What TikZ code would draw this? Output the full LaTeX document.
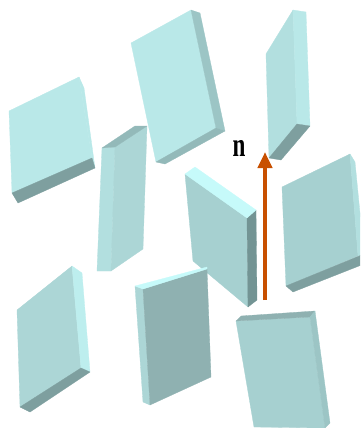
\documentclass[tikz,border=0pt]{standalone}
\usepackage{fontspec}
\setmainfont{Liberation Serif}
\usetikzlibrary{arrows.meta}
\definecolor{arrowc}{HTML}{C85000}
\definecolor{fa}{HTML}{B9E8E8}
\definecolor{fb}{HTML}{B2DFDF}
\definecolor{fc}{HTML}{ACD6D6}
\definecolor{fd}{HTML}{A6D0D0}
\definecolor{fe}{HTML}{8FB1B1}
\definecolor{ff}{HTML}{7E9F9F}
\definecolor{fg}{HTML}{739494}
\definecolor{fh}{HTML}{C6FAFA}
\definecolor{fi}{HTML}{9CC5C5}
\definecolor{fj}{HTML}{93B9B9}
\definecolor{fk}{HTML}{BDEEEE}
\begin{document}
\begin{tikzpicture}[x=1pt,y=-1pt,
  facet/.style={line width=0.3pt,line join=round,draw=#1,fill=#1}]
\useasboundingbox (0,0) rectangle (360,428);
\clip (0,0) rectangle (360,428);
% upper left plate
\path[facet=fa] (9,111) -- (79,77) -- (92,158) -- (12,193) -- cycle;
\path[facet=fa] (79,77) -- (84,88) -- (95,168) -- (92,158) -- cycle;
\path[facet=ff] (12,193) -- (92,158) -- (95,168) -- (18,203) -- cycle;
% upper middle plate
\path[facet=fa] (131,43) -- (191,10) -- (216,128) -- (156,162) -- cycle;
\path[facet=fi] (191,10) -- (200,13) -- (225,131) -- (216,128) -- cycle;
\path[facet=fj] (156,162) -- (216,128) -- (225,131) -- (165,164) -- cycle;
% narrow plate
\path[facet=fb] (102,148) -- (115,147) -- (111,271) -- (97,271) -- cycle;
\path[facet=fc] (115,147) -- (147,126) -- (143,249) -- (111,271) -- cycle;
\path[facet=fj] (102,148) -- (135,126) -- (147,126) -- (115,147) -- cycle;
% upper right plate
\path[facet=fb] (266,54) -- (293,10) -- (297,124) -- (269,158) -- cycle;
\path[facet=fa] (293,10) -- (306,12) -- (310,126) -- (297,124) -- cycle;
\path[facet=ff] (269,158) -- (297,124) -- (310,126) -- (281,160) -- cycle;
% central plate
\path[facet=fd] (185,174) -- (247,218) -- (248,307) -- (193,261) -- cycle;
\path[facet=fg] (247,218) -- (256,210) -- (257,300) -- (248,307) -- cycle;
\path[facet=fh] (185,174) -- (195,167) -- (256,210) -- (247,218) -- cycle;
% right plate
\path[facet=fd] (282,187) -- (350,154) -- (358,256) -- (286,286) -- cycle;
\path[facet=fb] (350,154) -- (355,162) -- (364,254) -- (358,256) -- cycle;
\path[facet=ff] (286,286) -- (364,254) -- (364,264) -- (293,292) -- cycle;
% lower left plate
\path[facet=fc] (17,310) -- (72,266) -- (81,368) -- (20,407) -- cycle;
\path[facet=fk] (72,266) -- (82,273) -- (90,372) -- (81,368) -- cycle;
\path[facet=ff] (20,407) -- (81,368) -- (90,372) -- (30,412) -- cycle;
% lower middle plate
\path[facet=fc] (135,286) -- (143,289) -- (150,405) -- (143,402) -- cycle;
\path[facet=fe] (143,289) -- (207,269) -- (211,377) -- (150,405) -- cycle;
\path[facet=fh] (135,286) -- (207,267) -- (207,269) -- (143,289) -- cycle;
% lower right plate
\path[facet=fd] (236,321) -- (310,317) -- (325,428) -- (254,427) -- cycle;
\path[facet=fe] (236,321) -- (241,316) -- (315,311) -- (310,317) -- cycle;
\path[facet=fi] (315,311) -- (330,423) -- (325,428) -- (310,317) -- cycle;
% normal vector
\coordinate (nbase) at (265,300);
\coordinate (ntip) at (265,152);
\draw[arrowc,line width=4pt,-{Triangle[length=16pt,width=14pt]}] (nbase) -- (ntip);
\node[inner sep=0pt,xscale=0.68,transform shape,font=\bfseries\fontsize{34}{34}\selectfont] (nlabel) at (239,148) {n};
\end{tikzpicture}
\end{document}
